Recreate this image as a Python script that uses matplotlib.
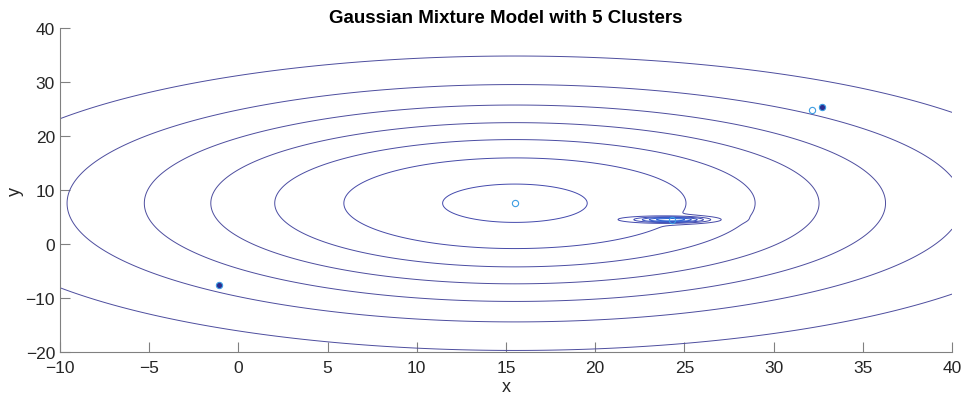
import numpy as np
import matplotlib.pyplot as plt
from matplotlib.colors import LinearSegmentedColormap

# Fitted mixture parameters
means = np.array([
    [15.5, 7.55],
    [24.3, 4.5],
    [32.13, 24.76],
    [32.69, 25.37],
    [-1.09, -7.54],
])
sigmas = np.array([
    [15.65, 13.7],
    [1.30, 0.36],
    [0.5, 0.5],
    [0.5, 0.5],
    [0.5, 0.5],
])
weights = np.array([0.998194, 0.001806, 1e-7, 1e-7, 1e-7])
filled = [False, False, False, True, True]  # tight components show as dots

n_levels = 12
x_range = [-10, 40]
y_range = [-20, 40]

# mixture density on a grid
xs = np.linspace(x_range[0], x_range[1], 700)
ys = np.linspace(y_range[0], y_range[1], 700)
X, Y = np.meshgrid(xs, ys)
Z = np.zeros_like(X)
for (mx, my), (sx, sy), w in zip(means, sigmas, weights):
    Z += w / (2 * np.pi * sx * sy) * np.exp(-0.5 * (((X - mx) / sx) ** 2 + ((Y - my) / sy) ** 2))

levels = np.linspace(0, Z.max(), n_levels + 1)[1:-1]

cmap = LinearSegmentedColormap.from_list('gm', ['#4d4d9e', '#4d4d9e', '#4048b0', '#2a62d6'])

fig = plt.figure(figsize=(9.64, 4.06), dpi=100)
ax = fig.add_axes([0.0622, 0.1305, 0.9254, 0.7981])

ax.contour(X, Y, Z, levels=levels, cmap=cmap, linewidths=0.7)

for (mx, my), f in zip(means, filled):
    ax.plot(mx, my, 'o', ms=4.5, mew=0.8, mec='#3d9de2',
            mfc='#2d2d8f' if f else 'none')

ax.set_xlim(x_range)
ax.set_ylim(y_range)
ax.set_xticks(np.arange(-10, 41, 5))
ax.set_yticks(np.arange(-20, 41, 10))

for side in ['top', 'right']:
    ax.spines[side].set_visible(False)
for side in ['left', 'bottom']:
    ax.spines[side].set_color('#808080')
ax.tick_params(direction='in', length=7, width=0.8, color='#808080',
               labelsize=12.5, labelcolor='#262626')
ax.tick_params(axis='x', pad=6)
for lbl in ax.get_xticklabels() + ax.get_yticklabels():
    lbl.set_family('Liberation Sans')

ax.set_xlabel('x', fontsize=13, family='Liberation Sans', color='#262626', labelpad=2)
ax.set_ylabel('y', fontsize=13, family='Liberation Sans', color='#262626', labelpad=1)
ax.set_title('Gaussian Mixture Model with 5 Clusters', fontsize=13.5,
             fontweight='bold', family='Liberation Sans', pad=4)

fig.savefig('out.png', dpi=100)
